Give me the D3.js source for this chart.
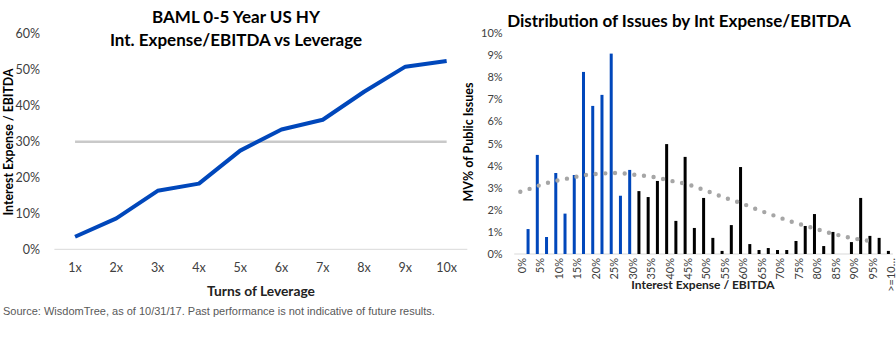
<!DOCTYPE html>
<html>
<head>
<meta charset="utf-8">
<script src="https://cdn.jsdelivr.net/npm/d3@7"></script>
<style>
  body { margin: 0; background: #fff; }
  svg text { font-family: Lato, "Open Sans", sans-serif; }
</style>
</head>
<body>
<div id="chart"></div>
<script>
// left chart: leverage vs interest expense / EBITDA
const leverage = ["1x", "2x", "3x", "4x", "5x", "6x", "7x", "8x", "9x", "10x"];
const intExpense = [3.5, 8.6, 16.3, 18.3, 27.5, 33.4, 36.1, 43.9, 50.9, 52.5];
const refLevel = 30;
const leftTicks = [0, 10, 20, 30, 40, 50, 60];

// right chart: distribution of issues
const buckets = ["0%", "2.5%", "5%", "7.5%", "10%", "12.5%", "15%", "17.5%", "20%", "22.5%",
  "25%", "27.5%", "30%", "32.5%", "35%", "37.5%", "40%", "42.5%", "45%", "47.5%",
  "50%", "52.5%", "55%", "57.5%", "60%", "62.5%", "65%", "67.5%", "70%", "72.5%",
  "75%", "77.5%", "80%", "82.5%", "85%", "87.5%", "90%", "92.5%", "95%", "97.5%", ">=100%"];
const mvShare = [0, 1.13, 4.49, 0.77, 3.67, 1.83, 3.58, 8.25, 6.71, 7.21,
  9.08, 2.64, 3.81, 2.85, 2.58, 3.31, 4.98, 1.50, 4.40, 1.18,
  2.54, 0.73, 0.14, 1.31, 3.94, 0.45, 0.18, 0.27, 0.18, 0.18,
  0.59, 1.27, 1.81, 0.36, 1.00, 0, 0.54, 2.54, 0.82, 0.73, 0.14];
const trend = [2.82, 2.95, 3.10, 3.23, 3.33, 3.41, 3.50, 3.57, 3.62, 3.65,
  3.67, 3.66, 3.61, 3.56, 3.52, 3.44, 3.34, 3.26, 3.17, 3.03,
  2.88, 2.73, 2.57, 2.43, 2.29, 2.12, 1.96, 1.81, 1.66, 1.51,
  1.38, 1.26, 1.14, 1.01, 0.90, 0.80, 0.71, 0.64, 0.59];
const bucketLabels = ["0%", "5%", "10%", "15%", "20%", "25%", "30%", "35%", "40%", "45%",
  "50%", "55%", "60%", "65%", "70%", "75%", "80%", "85%", "90%", "95%", ">=10…"];
const rightTicks = [0, 1, 2, 3, 4, 5, 6, 7, 8, 9, 10];
const blueUpTo = 12; // buckets up to 30% are drawn blue

const W = 896, H = 339;
const svg = d3.select("#chart").append("svg")
  .attr("width", W)
  .attr("height", H);

// ---- left chart ----
const x1 = d3.scaleBand().domain(leverage).range([54.4, 467.3]);
const y1 = d3.scaleLinear().domain([0, 60]).range([249.3, 34]);

const left = svg.append("g");

left.append("line")
  .attr("x1", 54.4).attr("x2", 467.3)
  .attr("y1", y1(0)).attr("y2", y1(0))
  .attr("stroke", "#d9d9d9").attr("stroke-width", 1);

left.selectAll(".ytick")
  .data(leftTicks)
  .enter().append("text")
  .attr("x", 40)
  .attr("y", d => y1(d))
  .attr("dy", "0.35em")
  .attr("text-anchor", "end")
  .attr("font-size", 12.5)
  .attr("fill", "#404040")
  .text(d => d + "%");

left.selectAll(".xtick")
  .data(leverage)
  .enter().append("text")
  .attr("x", d => x1(d) + x1.bandwidth() / 2)
  .attr("y", 268)
  .attr("dy", "0.35em")
  .attr("text-anchor", "middle")
  .attr("font-size", 12.5)
  .attr("fill", "#404040")
  .text(d => d);

// 30% reference line
left.append("path")
  .datum(leverage)
  .attr("fill", "none")
  .attr("stroke", "#c9c9c9")
  .attr("stroke-width", 2.5)
  .attr("d", d3.line()
    .x(d => x1(d) + x1.bandwidth() / 2)
    .y(() => y1(refLevel)));

left.append("path")
  .datum(intExpense)
  .attr("fill", "none")
  .attr("stroke", "#0047bb")
  .attr("stroke-width", 4)
  .attr("stroke-linejoin", "round")
  .attr("d", d3.line()
    .x((d, i) => x1(leverage[i]) + x1.bandwidth() / 2)
    .y(d => y1(d)));

left.append("text")
  .attr("x", 236).attr("y", 23)
  .attr("text-anchor", "middle")
  .attr("font-size", 17).attr("font-weight", "bold")
  .text("BAML 0-5 Year US HY");
left.append("text")
  .attr("x", 236).attr("y", 46)
  .attr("text-anchor", "middle")
  .attr("font-size", 17).attr("font-weight", "bold")
  .text("Int. Expense/EBITDA vs Leverage");

left.append("text")
  .attr("transform", "translate(9,142) rotate(-90)")
  .attr("dy", "0.35em")
  .attr("text-anchor", "middle")
  .attr("font-size", 12.3).attr("font-weight", "bold")
  .text("Interest Expense / EBITDA");

left.append("text")
  .attr("x", 261).attr("y", 291)
  .attr("dy", "0.35em")
  .attr("text-anchor", "middle")
  .attr("font-size", 13.8).attr("font-weight", "bold")
  .attr("fill", "#222")
  .text("Turns of Leverage");

// ---- right chart ----
const x2 = d3.scaleBand().domain(buckets).range([514.2, 893]);
const y2 = d3.scaleLinear().domain([0, 10]).range([254, 33.3]);
const cx = d => x2(d) + x2.bandwidth() / 2;

const right = svg.append("g");

right.append("line")
  .attr("x1", 514.2).attr("x2", 893)
  .attr("y1", y2(0)).attr("y2", y2(0))
  .attr("stroke", "#d9d9d9").attr("stroke-width", 1);

right.selectAll(".ytick")
  .data(rightTicks)
  .enter().append("text")
  .attr("x", 502.7)
  .attr("y", d => y2(d))
  .attr("dy", "0.35em")
  .attr("text-anchor", "end")
  .attr("font-size", 11)
  .attr("fill", "#404040")
  .text(d => d + "%");

right.selectAll(".bar")
  .data(mvShare)
  .enter().append("rect")
  .attr("x", (d, i) => cx(buckets[i]) - 1.5)
  .attr("y", d => y2(d))
  .attr("width", 3)
  .attr("height", d => y2(0) - y2(d))
  .attr("fill", (d, i) => i <= blueUpTo ? "#0047bb" : "#000");

right.append("path")
  .datum(trend)
  .attr("fill", "none")
  .attr("stroke", "#a6a6a6")
  .attr("stroke-width", 4.4)
  .attr("stroke-linecap", "round")
  .attr("stroke-dasharray", "0 9.7")
  .attr("d", d3.line()
    .curve(d3.curveCatmullRom)
    .x((d, i) => cx(buckets[i]) + 1.5)
    .y(d => y2(d)));

right.selectAll(".xtick")
  .data(bucketLabels)
  .enter().append("text")
  .attr("transform", (d, i) => `translate(${cx(buckets[i * 2]) + 3},258) rotate(-90)`)
  .attr("dy", "0.35em")
  .attr("text-anchor", "end")
  .attr("font-size", 11)
  .attr("fill", "#404040")
  .text(d => d);

right.append("text")
  .attr("x", 679).attr("y", 27)
  .attr("text-anchor", "middle")
  .attr("font-size", 17).attr("font-weight", "bold")
  .text("Distribution of Issues by Int Expense/EBITDA");

right.append("text")
  .attr("transform", "translate(469,142) rotate(-90)")
  .attr("dy", "0.35em")
  .attr("text-anchor", "middle")
  .attr("font-size", 12.5).attr("font-weight", "bold")
  .text("MV% of Public Issues");

right.append("text")
  .attr("x", 703).attr("y", 285)
  .attr("dy", "0.35em")
  .attr("text-anchor", "middle")
  .attr("font-size", 12).attr("font-weight", "bold")
  .attr("fill", "#222")
  .text("Interest Expense / EBITDA");

svg.append("text")
  .attr("x", 3).attr("y", 315)
  .attr("font-size", 11)
  .attr("fill", "#595959")
  .style("font-family", "'Liberation Sans', Arial, sans-serif")
  .text("Source: WisdomTree, as of 10/31/17. Past performance is not indicative of future results.");
</script>
</body>
</html>
